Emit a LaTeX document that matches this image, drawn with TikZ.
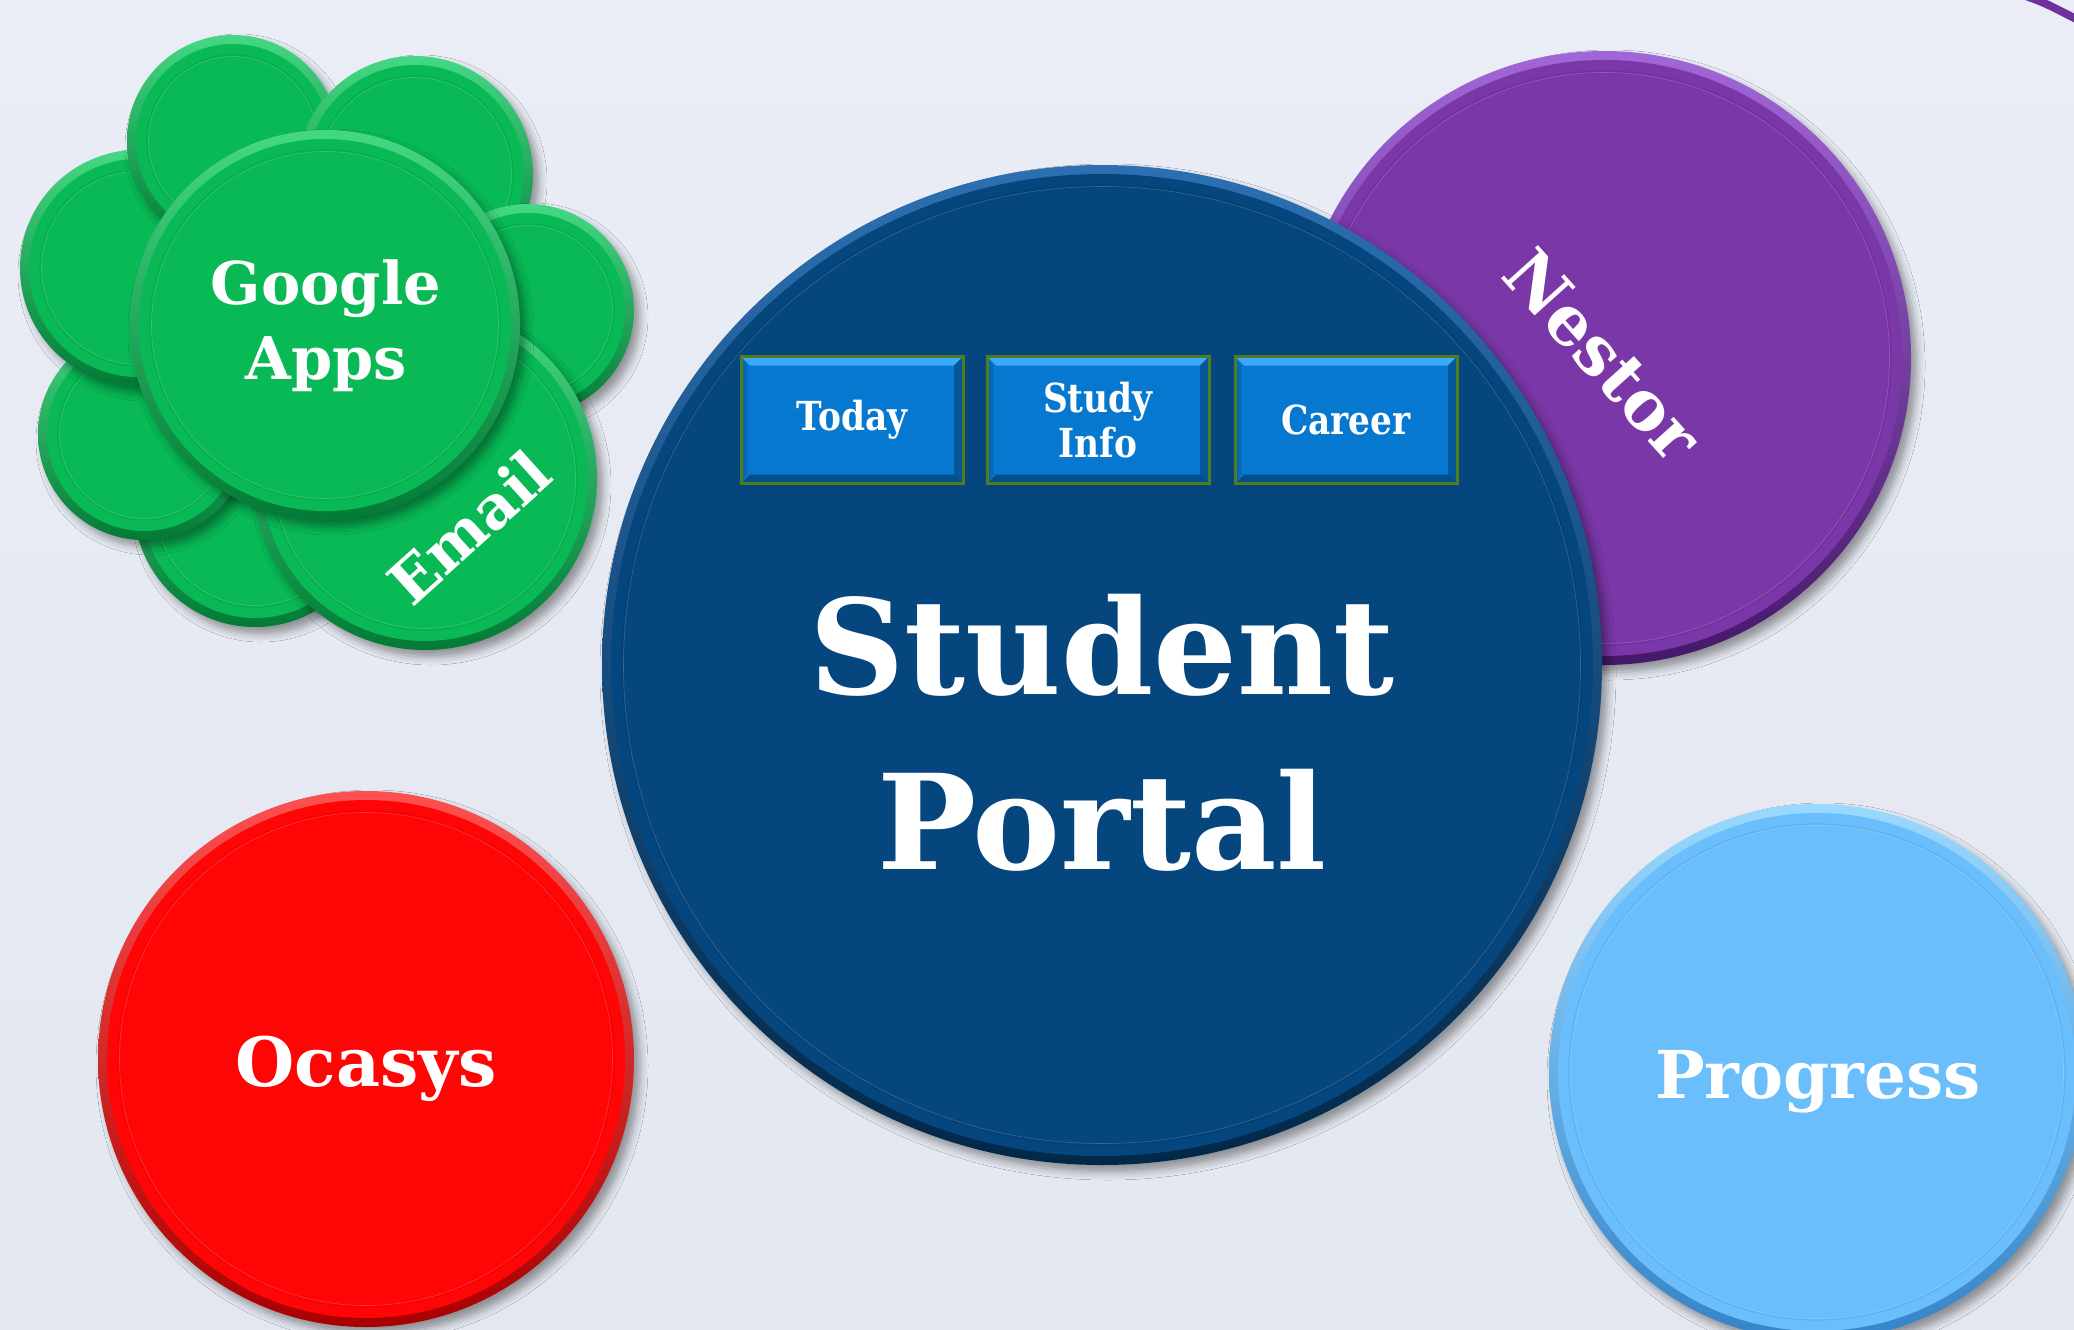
\documentclass[tikz,border=0pt]{standalone}
\usepackage{fontspec}
\setmainfont{DejaVu Serif}
\newfontfamily\condfont{DejaVu Serif}[FakeStretch=0.86]
\usetikzlibrary{shadows.blur}

\definecolor{bgtop}{HTML}{EAEDF5}
\definecolor{bgbot}{HTML}{E3E7EF}
\definecolor{gbase}{HTML}{08B955}
\definecolor{glight}{HTML}{45D884}
\definecolor{gdark}{HTML}{037A36}
\definecolor{bbase}{HTML}{06467E}
\definecolor{blight}{HTML}{2C70B2}
\definecolor{bdark}{HTML}{022848}
\definecolor{pbase}{HTML}{7A37A8}
\definecolor{plight}{HTML}{A266D8}
\definecolor{pdark}{HTML}{45186A}
\definecolor{rbase}{HTML}{FF0606}
\definecolor{rlight}{HTML}{FF5050}
\definecolor{rdark}{HTML}{A80000}
\definecolor{lbase}{HTML}{69BEFB}
\definecolor{llight}{HTML}{9AD9FF}
\definecolor{ldark}{HTML}{3584C8}
\definecolor{btnfill}{HTML}{0778D0}
\definecolor{btnlight}{HTML}{3CAAF8}
\definecolor{btndark}{HTML}{044E8A}
\definecolor{btnborder}{HTML}{4F7D1E}
\definecolor{arcpurple}{HTML}{7030A0}

\tikzset{
  disc/.style={circle, inner sep=0pt, shading angle=15,
    blur shadow={shadow xshift=6pt, shadow yshift=-7pt, shadow blur radius=8pt, shadow opacity=38}},
  btn/.style={rectangle, minimum width=222pt, minimum height=127pt, inner sep=0pt,
    fill=btnfill, draw=btnborder, line width=3pt, text=white, align=center,
    font=\condfont\bfseries\fontsize{40}{45}\selectfont,
    path picture={
      \fill[btnlight] (path picture bounding box.north west) -- (path picture bounding box.north east)
        -- ([shift={(-9pt,-9pt)}]path picture bounding box.north east)
        -- ([shift={(9pt,-9pt)}]path picture bounding box.north west) -- cycle;
      \fill[btndark] (path picture bounding box.south west) -- (path picture bounding box.south east)
        -- ([shift={(-9pt,9pt)}]path picture bounding box.south east)
        -- ([shift={(9pt,9pt)}]path picture bounding box.south west) -- cycle;
      \fill[btndark!80!btnfill] (path picture bounding box.north east) -- (path picture bounding box.south east)
        -- ([shift={(-9pt,9pt)}]path picture bounding box.south east)
        -- ([shift={(-9pt,-9pt)}]path picture bounding box.north east) -- cycle;
      \fill[btnfill!85!black] (path picture bounding box.north west) -- (path picture bounding box.south west)
        -- ([shift={(6pt,9pt)}]path picture bounding box.south west)
        -- ([shift={(6pt,-9pt)}]path picture bounding box.north west) -- cycle;
    }},
  lbl/.style={text=white, inner sep=0pt, font=\bfseries\fontsize{#1}{#1}\selectfont},
}

% name, x, y, radius, base, dark, light
\newcommand\mydisc[7]{%
  \node[disc, minimum size=2*#4 pt, top color=#7, bottom color=#6] (#1) at (#2,#3) {};
  \fill[#5] (#1.center) circle[radius=#4pt-9pt];
  \draw[#5!80!#6, line width=1.2pt] (#1.center) circle[radius=#4pt-20pt];
  \draw[#5!70!white, line width=0.6pt, opacity=0.6] (#1.center) circle[radius=#4pt-21.5pt];
}

\begin{document}
\begin{tikzpicture}[x=1pt,y=-1pt]
\useasboundingbox (0,0) rectangle (2074,1330);
\clip (0,0) rectangle (2074,1330);
\shade[top color=bgtop, bottom color=bgbot] (0,0) rectangle (2074,1330);

% partial purple ring at top right
\draw[arcpurple, line width=8pt] (2026,-4) .. controls (2045,3) .. (2080,21);

% green cluster
\mydisc{gbot}{255}{506}{121}{gbase}{gdark}{glight}
\mydisc{gbl}{144}{434}{106}{gbase}{gdark}{glight}
\mydisc{gleft}{138}{268}{118}{gbase}{gdark}{glight}
\mydisc{gtl}{233}{141}{106}{gbase}{gdark}{glight}
\mydisc{gtr}{415}{174}{118}{gbase}{gdark}{glight}
\mydisc{gright}{528}{310}{106}{gbase}{gdark}{glight}
\mydisc{email}{425}{478}{172}{gbase}{gdark}{glight}
\mydisc{google}{325}{325}{195}{gbase}{gdark}{glight}

% other discs
\mydisc{ocasys}{366}{1059}{268}{rbase}{rdark}{rlight}
\mydisc{progress}{1817}{1072}{268}{lbase}{ldark}{llight}
\mydisc{nestor}{1604}{358}{307}{pbase}{pdark}{plight}
\mydisc{portal}{1102}{665}{500}{bbase}{bdark}{blight}

% buttons
\node[btn] (today) at (852,420) {Today};
\node[btn] (study) at (1098,420) {Study\\Info};
\node[btn] (career) at (1346,420) {Career};

% labels
\node[lbl=59, anchor=base] (tgoogle) at (326,304) {Google};
\node[lbl=59, anchor=base] (tapps) at (326,379) {Apps};
\node[lbl=60, rotate=42] (temail) at (469,527) {Email};
\node[lbl=68, rotate=-48] (tnestor) at (1603,355) {Nestor};
\node[lbl=132, anchor=base] (tstudent) at (1102,694) {Student};
\node[lbl=132, anchor=base] (tportal) at (1102,869) {Portal};
\node[lbl=68, anchor=base] (tocasys) at (366,1086) {Ocasys};
\node[lbl=66, anchor=base] (tprogress) at (1818,1098) {Progress};
\end{tikzpicture}
\end{document}
